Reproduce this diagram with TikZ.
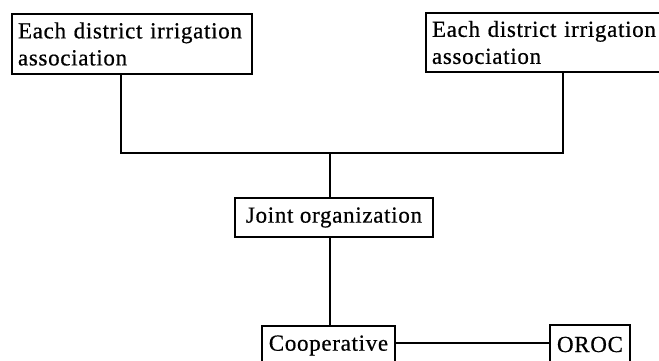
\documentclass[tikz,border=0pt]{standalone}
\usepackage{fontspec}
\setmainfont{Liberation Serif}[LetterSpace=3, FakeBold=0.6]
\begin{document}
\begin{tikzpicture}[x=1pt,y=-1pt,
  box/.style={draw, line width=1.3pt, rectangle, inner xsep=6pt, inner ysep=0pt,
    font=\fontsize{23}{27}\selectfont},
  link/.style={line width=1.4pt}]
\useasboundingbox (0,0) rectangle (659,360);
\clip (0,0) rectangle (659,360);
\node[box, minimum width=240pt, minimum height=60pt, text width=228pt, align=left] (b1) at (132,44) {Each district irrigation\\association};
\node[box, minimum width=240pt, minimum height=59pt, text width=228pt, align=left] (b2) at (546,42.5) {Each district irrigation\\association};
\node[box, minimum width=198pt, minimum height=39pt] (joint) at (334,217.5) {Joint organization};
\node[box, minimum width=133pt, minimum height=39pt] (coop) at (328.5,345.5) {Cooperative};
\node[box, minimum width=80pt, minimum height=39pt] (oroc) at (590,344.5) {OROC};
\coordinate (jl) at (121,153);
\coordinate (jr) at (563,153);
\coordinate (jm) at (330,153);
\draw[link] (b1.south -| jl) -- (jl) -- (jr) -- (b2.south -| jr);
\draw[link] (jm) -- (joint.north -| jm);
\draw[link] (joint.south -| jm) -- (coop.north -| jm);
\draw[link] (coop.east |- 0,343) -- (oroc.west |- 0,343);
\end{tikzpicture}
\end{document}
